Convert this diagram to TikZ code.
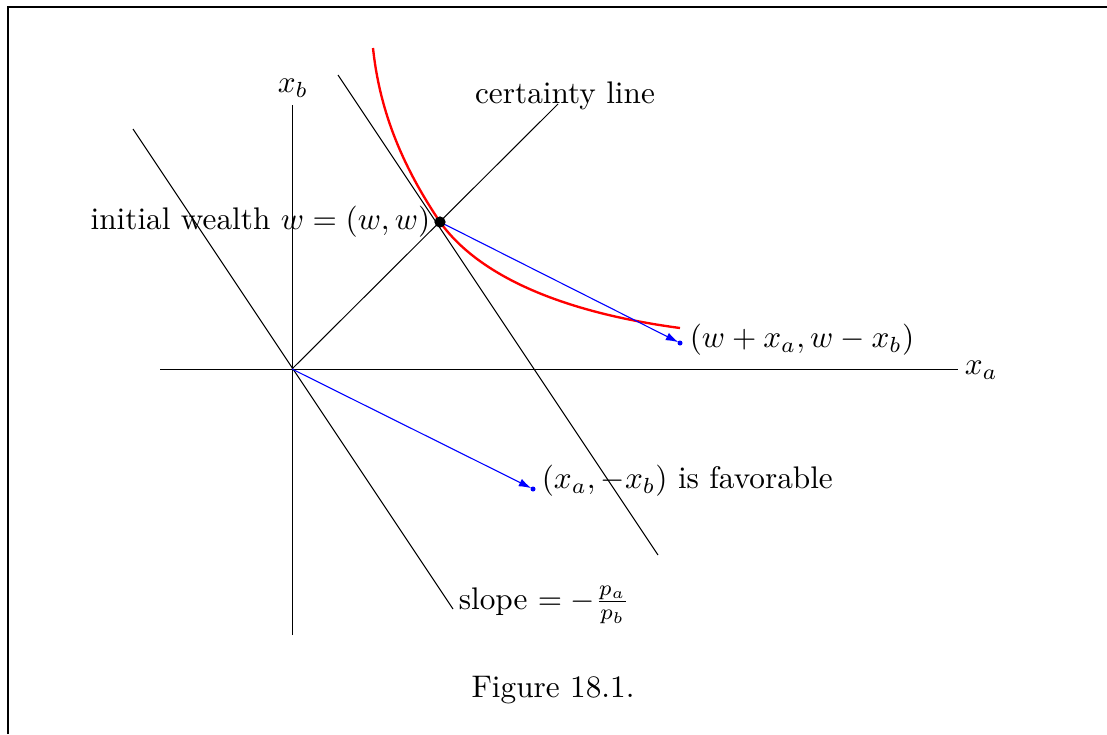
\documentclass[tikz,border=0pt]{standalone}
\usetikzlibrary{arrows.meta}
\begin{document}
\begin{tikzpicture}[x=0.32pt,y=-0.32pt,
  ax/.style={black,line width=0.32pt},
  vec/.style={blue,line width=0.35pt,-{Latex[length=4pt,width=2.6pt]},shorten >=0.6pt},
  lbl/.style={inner sep=1pt,font=\fontsize{10}{12}\selectfont}]
\useasboundingbox (0,0) rectangle (1107,734);
\draw[line width=0.4pt] (8,734) -- (8,7) -- (1107,7);
% points
\coordinate (O) at (292,369);
\coordinate (W) at (440,222);
\coordinate (A) at (680,343);
\coordinate (B) at (533,489);
% axes
\coordinate (xl) at (160,369); \coordinate (xr) at (958,369);
\coordinate (yt) at (292,105); \coordinate (yb) at (292,635);
\draw[ax] (xl) -- (xr);
\draw[ax] (yb) -- (yt);
\node[lbl,anchor=west] (xa) at (961,370) {$x_a$};
\node[lbl] (xbl) at (293,88) {$x_b$};
% certainty line
\coordinate (ct) at (558,104);
\draw[ax] (O) -- (ct);
\node[lbl] (cert) at (565,96) {certainty line};
% budget lines
\coordinate (b1) at (338,75); \coordinate (b2) at (658,555);
\draw[ax] (b1) -- (b2);
\coordinate (p1) at (133,129); \coordinate (p2) at (453,609);
\draw[ax] (p1) -- (p2);
\node[lbl,anchor=west] (slope) at (455,605) {slope $= -\frac{p_a}{p_b}$};
% indifference curve
\draw[red,line width=0.75pt] (373,48) .. controls (380,115) and (405,170) .. (W)
  .. controls (478,275) and (560,312) .. (680,328);
% vectors
\draw[vec] (W) -- (A);
\draw[vec] (O) -- (B);
\fill[blue] (A) circle (0.8pt);
\fill[blue] (B) circle (0.8pt);
\fill[black] (W) circle (1.8pt);
\node[lbl,anchor=east] (iw) at (434,222) {initial wealth $w=(w,w)$};
\node[lbl,anchor=west] (la) at (686,340) {$(w+x_a,w-x_b)$};
\node[lbl,anchor=west] (lb) at (538,481) {$(x_a,-x_b)$ is favorable};
\node[lbl] (fig) at (553,690) {Figure 18.1.};
\end{tikzpicture}
\end{document}
